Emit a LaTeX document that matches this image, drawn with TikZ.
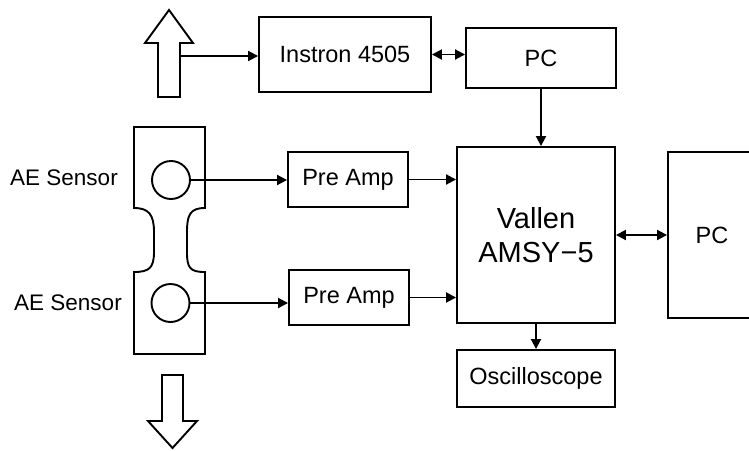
\documentclass[tikz,border=0pt]{standalone}
\usepackage{fontspec}
\setmainfont{Liberation Sans}
\usetikzlibrary{calc}
\usetikzlibrary{positioning}
\usetikzlibrary{arrows.meta}

\begin{document}
\begin{tikzpicture}[x=1pt, y=-1pt,
	box/.style = {rectangle, draw, line width=1.9pt, inner sep=0pt, font=\fontsize{23.5}{28}\selectfont},
	sen/.style = {circle, draw, line width=1.9pt, minimum size=38pt, inner sep=0pt},
	lbl/.style = {font=\fontsize{22.5}{27}\selectfont},
	r/.style = {-{Triangle[length=10pt, width=10pt]}, line width=1.9pt},
	rr/.style = {{Triangle[length=10pt, width=10pt]}-{Triangle[length=10pt, width=10pt]}, line width=1.9pt},
	fat/.style = {line width=1.9pt, line join=miter}
	]
	\useasboundingbox (0,0) rectangle (749,450);
	
	% === === Nodes === ===
	\node[box, minimum width=172pt, minimum height=75pt]	(inst)	at	(345, 54.5)	{Instron 4505};
	\node[box, minimum width=150pt, minimum height=60pt]	(pc1)	at	(541, 58)	{PC};
	\node[box, minimum width=158pt, minimum height=176pt, align=center, font=\fontsize{29}{34}\selectfont]	(val)	at	(536, 235)	{Vallen\\AMSY−5};
	\node[box, minimum width=88pt, minimum height=166pt]	(pc2)	at	(712, 235)	{PC};
	\node[box, minimum width=158pt, minimum height=57pt]	(osc)	at	(536, 378.5)	{Oscilloscope};
	
	\node[box, minimum width=120pt, minimum height=55pt]	(pa1)	at	(348, 179.5)	{Pre Amp};
	\node[box, minimum width=120pt, minimum height=55pt]	(pa2)	at	(349, 297.5)	{Pre Amp};
	
	\node[sen]	(s1)	at	(171, 180)	{};
	\node[sen]	(s2)	at	(170.5, 303)	{};
	\node[lbl]	(l1)	at	(64, 178)	{AE Sensor};
	\node[lbl]	(l2)	at	(68, 303)	{AE Sensor};
	
	\coordinate	(up)	at	(180, 56);
	
	% === === Shapes === ===
	\draw[fat]	(158,97) -- (158,43) -- (145,43) -- (169,10) -- (193,43) -- (180,43) -- (180,97) -- cycle;
	\draw[fat]	(162,375) -- (183,375) -- (183,421) -- (197,421) -- (172.5,448) -- (148,421) -- (162,421) -- cycle;
	\draw[fat]	(134,127) -- (205,127) -- (205,208)
		.. controls (190,208) and (187,215) .. (187,232) -- (187,252)
		.. controls (187,268) and (190,272) .. (205,272) -- (205,354) -- (134,354) -- (134,272)
		.. controls (149,272) and (154,268) .. (154,252) -- (154,232)
		.. controls (154,215) and (149,208) .. (134,208) -- cycle;
	
	% === === Lines === ===
	\draw[r]	(up)	--	(up -| inst.west);
	\draw[rr]	(inst.east)	--	(inst.east -| pc1.west);
	\draw[r]	(pc1.south)	--	(val.north -| pc1.south);
	\draw[r]	(s1.east)	--	(s1.east -| pa1.west);
	\draw[r]	(pa1.east)	--	(pa1.east -| val.west);
	\draw[r]	(s2.east)	--	(s2.east -| pa2.west);
	\draw[r]	(pa2.east)	--	(pa2.east -| val.west);
	\draw[rr]	(val.east)	--	(val.east -| pc2.west);
	\draw[r]	(val.south)	--	(osc.north);
	
\end{tikzpicture}
\end{document}
